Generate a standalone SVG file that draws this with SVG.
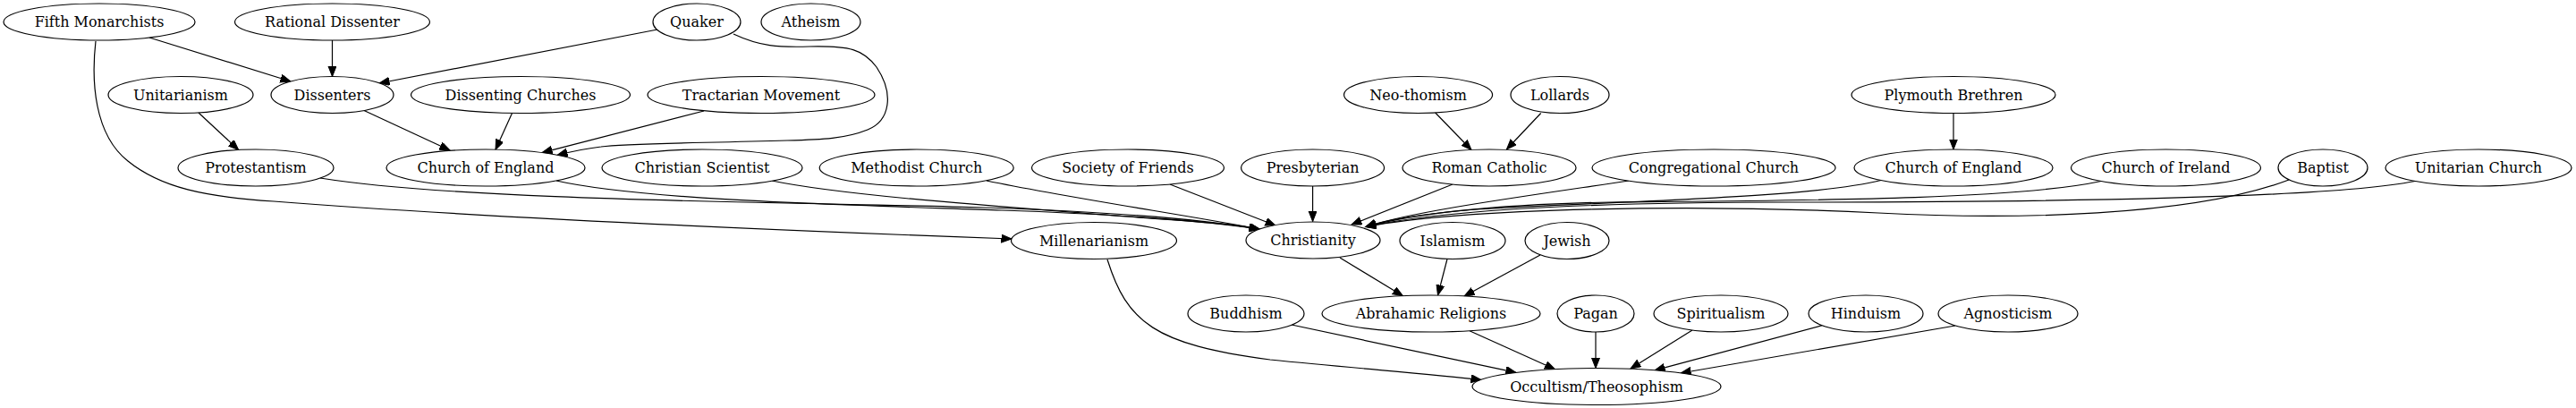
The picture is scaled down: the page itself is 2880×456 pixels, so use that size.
<svg xmlns="http://www.w3.org/2000/svg" width="2880" height="456" viewBox="0 0 2880 456">
<style>
.n ellipse{fill:#fff;stroke:#000;stroke-width:1.2}
.n text{font-family:"DejaVu Serif",serif;font-size:16px;text-anchor:middle;fill:#000}
#edges path{fill:none;stroke:#000;stroke-width:1.2;marker-end:url(#ah)}
</style>
<defs>
<marker id="ah" markerUnits="userSpaceOnUse" markerWidth="13" markerHeight="10" refX="11.5" refY="4.5" orient="auto">
<path d="M0,0 L11.5,4.5 L0,9 z" fill="#000" stroke="#000" stroke-width="1"/>
</marker>
</defs>
<rect width="2880" height="456" fill="#fff"/>
<g id="edges">
<path d="M167,42 L325,91"/>
<path d="M371.5,45 L371.5,85.5"/>
<path d="M735,33 L424,93"/>
<path d="M820,38 C850,52 870,53 905,52 C950,51 965,55 980,75 C1000,105 995,135 970,145 C945,155 920,156 880,157 C780,160 700,160 672,164 C655,166 640,169 623,173.5"/>
<path d="M107,46 C102,90 105,150 143,180 C180,210 230,220 306,225 C500,240 800,255 1131,267"/>
<path d="M222,126 L266.7,167.5"/>
<path d="M407,123.5 L503,168"/>
<path d="M572.5,126.5 L554,167.3"/>
<path d="M787,124 L606,170.6"/>
<path d="M1604.7,126 L1645,167.5"/>
<path d="M1722.7,126.5 L1684.4,167"/>
<path d="M2184,126.5 L2184,167"/>
<path d="M358,199 C520,225 900,226 1100,232 C1250,237 1350,246 1408,256"/>
<path d="M622,202 C720,224 950,229 1120,235 C1260,240 1350,247 1408,256"/>
<path d="M863,202 C950,220 1150,233 1260,242 C1330,247 1375,250 1408,256"/>
<path d="M1103,202 C1200,222 1330,241 1408,256"/>
<path d="M1308,206 L1426,252"/>
<path d="M1467.6,208 L1467.6,247.5"/>
<path d="M1624,206 L1511,251"/>
<path d="M1821,202 C1700,220 1580,236 1527,253.5"/>
<path d="M2103,201.5 C2020,222 1800,225 1650,234 C1580,240 1545,247 1527,253.5"/>
<path d="M2349,202.5 C2250,224 2000,224 1800,226 C1650,229 1570,242 1527,253.5"/>
<path d="M2559,201 C2450,242 2250,246 2100,238 C1900,228 1640,232 1527,253.5"/>
<path d="M2700,202.5 C2600,222 2300,226 2000,226 C1800,226 1620,233 1527,253.5"/>
<path d="M1498,288 L1568.5,330.7"/>
<path d="M1618,289.5 L1607.5,330"/>
<path d="M1722,285 L1637,331"/>
<path d="M1238,290 C1260,360 1290,385 1420,402 C1520,412 1600,418 1656,424.5"/>
<path d="M1444,363 L1695,416.4"/>
<path d="M1643,369.7 L1738.5,412.7"/>
<path d="M1784,371 L1784,411.5"/>
<path d="M1892,369 L1823,412"/>
<path d="M2037,363.7 L1850,413.9"/>
<path d="M2186,364 L1879,417"/>
</g>
<g id="fifth" class="n"><ellipse cx="111" cy="24.5" rx="107" ry="20.5"/><text x="111" y="30">Fifth Monarchists</text></g>
<g id="rational" class="n"><ellipse cx="371.5" cy="24.5" rx="109" ry="20.5"/><text x="371.5" y="30">Rational Dissenter</text></g>
<g id="quaker" class="n"><ellipse cx="779" cy="24.5" rx="49" ry="20.5"/><text x="779" y="30">Quaker</text></g>
<g id="atheism" class="n"><ellipse cx="906.5" cy="24.5" rx="55.5" ry="20.5"/><text x="906.5" y="30">Atheism</text></g>
<g id="unitarianism" class="n"><ellipse cx="202" cy="106" rx="81" ry="20.5"/><text x="202" y="111.5">Unitarianism</text></g>
<g id="dissenters" class="n"><ellipse cx="371.5" cy="106" rx="68.5" ry="20.5"/><text x="371.5" y="111.5">Dissenters</text></g>
<g id="dissenting" class="n"><ellipse cx="582" cy="106" rx="122.5" ry="20.5"/><text x="582" y="111.5">Dissenting Churches</text></g>
<g id="tractarian" class="n"><ellipse cx="851" cy="106" rx="127" ry="20.5"/><text x="851" y="111.5">Tractarian Movement</text></g>
<g id="neothomism" class="n"><ellipse cx="1585.6" cy="106" rx="83" ry="20.5"/><text x="1585.6" y="111.5">Neo-thomism</text></g>
<g id="lollards" class="n"><ellipse cx="1744" cy="106" rx="55" ry="20.5"/><text x="1744" y="111.5">Lollards</text></g>
<g id="plymouth" class="n"><ellipse cx="2184" cy="106" rx="114" ry="20.5"/><text x="2184" y="111.5">Plymouth Brethren</text></g>
<g id="protestantism" class="n"><ellipse cx="286" cy="187.5" rx="87" ry="20.5"/><text x="286" y="193">Protestantism</text></g>
<g id="coe1" class="n"><ellipse cx="543" cy="187.5" rx="111" ry="20.5"/><text x="543" y="193">Church of England</text></g>
<g id="christsci" class="n"><ellipse cx="785" cy="187.5" rx="112" ry="20.5"/><text x="785" y="193">Christian Scientist</text></g>
<g id="methodist" class="n"><ellipse cx="1024.7" cy="187.5" rx="108.5" ry="20.5"/><text x="1024.7" y="193">Methodist Church</text></g>
<g id="friends" class="n"><ellipse cx="1261" cy="187.5" rx="107.5" ry="20.5"/><text x="1261" y="193">Society of Friends</text></g>
<g id="presbyterian" class="n"><ellipse cx="1467.6" cy="187.5" rx="80" ry="20.5"/><text x="1467.6" y="193">Presbyterian</text></g>
<g id="romancatholic" class="n"><ellipse cx="1665" cy="187.5" rx="97" ry="20.5"/><text x="1665" y="193">Roman Catholic</text></g>
<g id="congregational" class="n"><ellipse cx="1916" cy="187.5" rx="136" ry="20.5"/><text x="1916" y="193">Congregational Church</text></g>
<g id="coe2" class="n"><ellipse cx="2184" cy="187.5" rx="111" ry="20.5"/><text x="2184" y="193">Church of England</text></g>
<g id="ireland" class="n"><ellipse cx="2421.5" cy="187.5" rx="106" ry="20.5"/><text x="2421.5" y="193">Church of Ireland</text></g>
<g id="baptist" class="n"><ellipse cx="2597" cy="187.5" rx="50" ry="20.5"/><text x="2597" y="193">Baptist</text></g>
<g id="unitarianchurch" class="n"><ellipse cx="2771" cy="187.5" rx="104" ry="20.5"/><text x="2771" y="193">Unitarian Church</text></g>
<g id="millenarianism" class="n"><ellipse cx="1223" cy="269" rx="92.5" ry="20.5"/><text x="1223" y="274.5">Millenarianism</text></g>
<g id="christianity" class="n"><ellipse cx="1468" cy="268.5" rx="75" ry="20.5"/><text x="1468" y="274">Christianity</text></g>
<g id="islamism" class="n"><ellipse cx="1624" cy="269" rx="59" ry="20.5"/><text x="1624" y="274.5">Islamism</text></g>
<g id="jewish" class="n"><ellipse cx="1752" cy="269" rx="47" ry="20.5"/><text x="1752" y="274.5">Jewish</text></g>
<g id="buddhism" class="n"><ellipse cx="1393" cy="350.5" rx="65" ry="20.5"/><text x="1393" y="356">Buddhism</text></g>
<g id="abrahamic" class="n"><ellipse cx="1600" cy="350.5" rx="122" ry="20.5"/><text x="1600" y="356">Abrahamic Religions</text></g>
<g id="pagan" class="n"><ellipse cx="1784" cy="350.5" rx="43" ry="20.5"/><text x="1784" y="356">Pagan</text></g>
<g id="spiritualism" class="n"><ellipse cx="1924" cy="350.5" rx="75" ry="20.5"/><text x="1924" y="356">Spiritualism</text></g>
<g id="hinduism" class="n"><ellipse cx="2086" cy="350.5" rx="64" ry="20.5"/><text x="2086" y="356">Hinduism</text></g>
<g id="agnosticism" class="n"><ellipse cx="2245" cy="350.5" rx="78" ry="20.5"/><text x="2245" y="356">Agnosticism</text></g>
<g id="occultism" class="n"><ellipse cx="1785" cy="432" rx="139" ry="20.5"/><text x="1785" y="437.5">Occultism/Theosophism</text></g>
</svg>
